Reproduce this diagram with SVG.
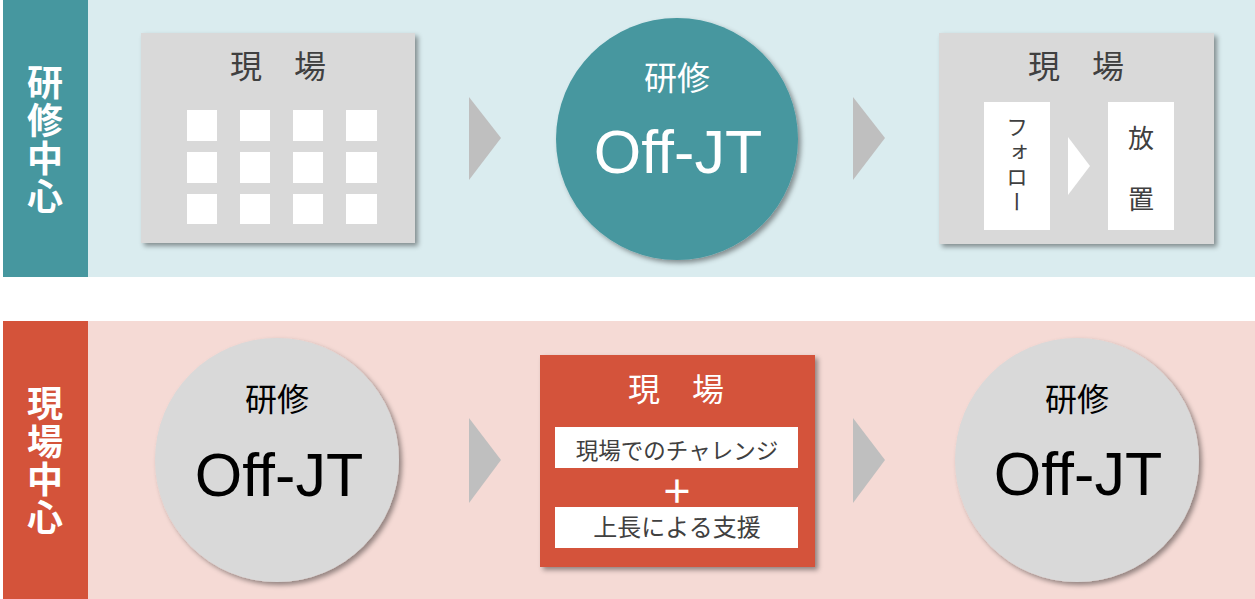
<svg xmlns="http://www.w3.org/2000/svg" width="1255" height="599" viewBox="0 0 1255 599">
<defs>
<filter id="sh" x="-10%" y="-10%" width="130%" height="130%">
<feDropShadow dx="3" dy="3" stdDeviation="2.5" flood-color="#000" flood-opacity="0.4"/>
</filter>
<style>
text{font-family:"Noto Sans CJK JP","Noto Sans",sans-serif;}
.lat{font-family:"Liberation Sans","Noto Sans",sans-serif;}
.side{font-size:36px;font-weight:bold;fill:#fff;writing-mode:vertical-rl;letter-spacing:2px;}
.ttl{font-size:32px;fill:#404040;text-anchor:middle;}
.sq{fill:#fff;}
.arr{fill:#bfbfbf;}
.box{fill:#d9d9d9;filter:url(#sh);}
.c{text-anchor:middle;}
</style>
</defs>
<rect x="0" y="0" width="1255" height="599" fill="#fff"/>
<g id="band-top">
<rect x="88" y="0" width="1167" height="277" fill="#daecef"/>
<rect x="3" y="0" width="85" height="277" fill="#46979f"/>
<text class="side" x="45" y="64">研修中心</text>
</g>
<g id="band-bottom">
<rect x="88" y="321" width="1167" height="278" fill="#f5dad5"/>
<rect x="3" y="321" width="85" height="278" fill="#d4533a"/>
<text class="side" x="45" y="385">現場中心</text>
</g>
<g id="connectors">
<polygon class="arr" points="469,97 501,138 469,180"/>
<polygon class="arr" points="853,97 885,138 853,180"/>
<polygon class="arr" points="469,418 501,460 469,503"/>
<polygon class="arr" points="853,418 885,460 853,503"/>
</g>
<g id="genba-top-left">
<rect class="box" x="141" y="33" width="274" height="210"/>
<text class="ttl" x="278" y="78">現　場</text>
<rect class="sq" x="187" y="110" width="30" height="31"/>
<rect class="sq" x="240" y="110" width="30" height="31"/>
<rect class="sq" x="293" y="110" width="30" height="31"/>
<rect class="sq" x="346" y="110" width="31" height="31"/>
<rect class="sq" x="187" y="152" width="30" height="31"/>
<rect class="sq" x="240" y="152" width="30" height="31"/>
<rect class="sq" x="293" y="152" width="30" height="31"/>
<rect class="sq" x="346" y="152" width="31" height="31"/>
<rect class="sq" x="187" y="194" width="30" height="30"/>
<rect class="sq" x="240" y="194" width="30" height="30"/>
<rect class="sq" x="293" y="194" width="30" height="30"/>
<rect class="sq" x="346" y="194" width="31" height="30"/>
</g>
<g id="offjt-top">
<circle cx="677" cy="139" r="121" fill="#46979f" filter="url(#sh)"/>
<text class="c" x="677" y="90" font-size="33" fill="#fff">研修</text>
<text class="c lat" x="678" y="173" font-size="61" fill="#fff">Off-JT</text>
</g>
<g id="genba-top-right">
<rect class="box" x="939" y="33" width="275" height="211"/>
<text class="ttl" x="1076" y="78">現　場</text>
<rect class="sq" x="984" y="102" width="66" height="128"/>
<rect class="sq" x="1108" y="102" width="66" height="128"/>
<polygon fill="#fff" points="1068,137 1090,166 1068,195"/>
<text x="1017" y="116" font-size="22" fill="#404040" style="writing-mode:vertical-rl" letter-spacing="3">フォロー</text>
<text class="c" x="1141" y="148" font-size="26" fill="#404040">放</text>
<text class="c" x="1141" y="209" font-size="26" fill="#404040">置</text>
</g>
<g id="offjt-bottom-left">
<circle cx="277" cy="460" r="122" fill="#d9d9d9" filter="url(#sh)"/>
<text class="c" x="277" y="411" font-size="32" fill="#000">研修</text>
<text class="c lat" x="279" y="496" font-size="61" fill="#000">Off-JT</text>
</g>
<g id="genba-bottom">
<rect x="540" y="355" width="275" height="212" fill="#d4533a" filter="url(#sh)"/>
<text class="c" x="676" y="401" font-size="32" fill="#fff">現　場</text>
<rect class="sq" x="555" y="427" width="243" height="41"/>
<text class="c" x="677" y="459" font-size="22.5" fill="#404040">現場でのチャレンジ</text>
<text class="c" x="677" y="503" font-size="32" font-weight="bold" fill="#fff">＋</text>
<rect class="sq" x="555" y="507" width="243" height="41"/>
<text class="c" x="677" y="536" font-size="24" fill="#404040">上長による支援</text>
</g>
<g id="offjt-bottom-right">
<circle cx="1077" cy="460" r="122" fill="#d9d9d9" filter="url(#sh)"/>
<text class="c" x="1077" y="411" font-size="32" fill="#000">研修</text>
<text class="c lat" x="1078" y="495" font-size="61" fill="#000">Off-JT</text>
</g>
</svg>
